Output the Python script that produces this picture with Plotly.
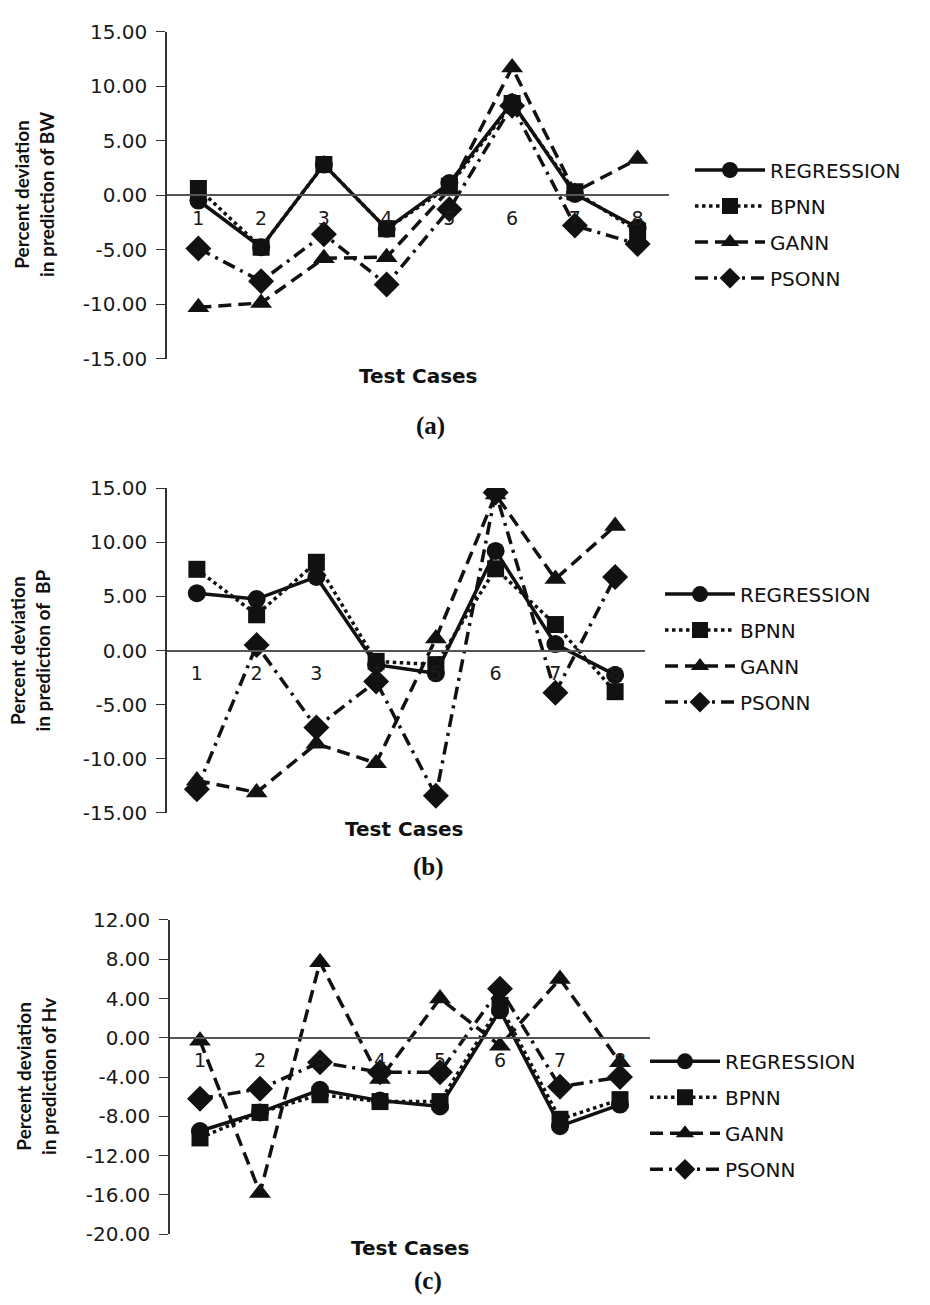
import plotly.graph_objects as go

# Test case labels shared by all three panels
cases = ["1", "2", "3", "4", "5", "6", "7", "8"]
series_names = ["REGRESSION", "BPNN", "GANN", "PSONN"]

# (a) percent deviation in prediction of BW
bw_regression = [-0.5, -4.8, 2.8, -3.1, 1.1, 8.5, 0.1, -3.0]
bw_bpnn = [0.6, -4.8, 2.8, -3.1, 0.8, 8.4, 0.3, -3.3]
bw_gann = [-10.3, -9.9, -5.8, -5.7, 0.5, 11.7, 0.3, 3.3]
bw_psonn = [-4.9, -7.9, -3.6, -8.2, -1.3, 8.2, -2.8, -4.5]
bw_ticks = [-15, -10, -5, 0, 5, 10, 15]

# (b) percent deviation in prediction of BP
bp_regression = [5.3, 4.75, 6.8, -1.3, -2.1, 9.2, 0.6, -2.25]
bp_bpnn = [7.5, 3.3, 8.15, -1.0, -1.3, 7.55, 2.4, -3.8]
bp_gann = [-12.0, -13.1, -8.6, -10.4, 1.1, 14.4, 6.6, 11.5]
bp_psonn = [-12.8, 0.5, -7.1, -2.85, -13.4, 14.6, -3.9, 6.8]
bp_ticks = [-15, -10, -5, 0, 5, 10, 15]

# (c) percent deviation in prediction of Hv
hv_regression = [-9.5, -7.6, -5.3, -6.4, -7.0, 2.8, -9.0, -6.8]
hv_bpnn = [-10.2, -7.6, -5.8, -6.5, -6.5, 3.3, -8.3, -6.3]
hv_gann = [-0.3, -15.8, 7.7, -4.2, 4.0, -0.8, 6.0, -2.5]
hv_psonn = [-6.2, -5.2, -2.5, -3.5, -3.5, 5.0, -5.0, -4.0]
hv_ticks = [-20, -16, -12, -8, -4, 0, 4, 8, 12]

W, H = 930, 1305
INK = "#111111"
WIDE = "DejaVu Sans"
TITLE_FONT = "Lato"

styles = {
    "REGRESSION": dict(dash="solid", symbol="circle", size=18),
    "BPNN": dict(dash="dot", symbol="square", size=17),
    "GANN": dict(dash="13px,7px", symbol="triangle-up", size=19),
    "PSONN": dict(dash="13px,6px,3px,6px", symbol="diamond", size=20),
}

# pixel geometry and label placement for each panel
panels = [
    dict(px=(167, 669), py=(20, 353), ticks=bw_ticks,
         data=[bw_regression, bw_bpnn, bw_gann, bw_psonn],
         ytitle="Percent deviation<br>in prediction of BW", title_x=34,
         legend_x=690, legend_y=216, caption_x=430, caption_y=422,
         xlabel_x=418, xlabel_y=371),
    dict(px=(167, 645), py=(485, 816), ticks=bp_ticks,
         data=[bp_regression, bp_bpnn, bp_gann, bp_psonn],
         ytitle="Percent deviation<br>in prediction of  BP", title_x=30,
         legend_x=660, legend_y=648, caption_x=428, caption_y=871,
         xlabel_x=404, xlabel_y=832),
    dict(px=(170, 650), py=(925, 1245), ticks=hv_ticks,
         data=[hv_regression, hv_bpnn, hv_gann, hv_psonn],
         ytitle="Percent deviation<br>in prediction of Hv", title_x=36,
         legend_x=645, legend_y=1124, caption_x=428, caption_y=1293,
         xlabel_x=410, xlabel_y=1259),
]
captions = ["(a)", "(b)", "(c)"]

fig = go.Figure()
annotations = []
layout = {}

for i, p in enumerate(panels):
    k = "" if i == 0 else str(i + 1)
    xd = (p["px"][0] / W, p["px"][1] / W)
    yd = (1 - p["py"][1] / H, 1 - p["py"][0] / H)
    lo, hi = p["ticks"][0], p["ticks"][-1]
    zero_pos = yd[0] + (0 - lo) / (hi - lo) * (yd[1] - yd[0])
    leg = "legend" if i == 0 else f"legend{i + 1}"

    for name, vals in zip(series_names, p["data"]):
        st = styles[name]
        fig.add_trace(go.Scatter(
            x=cases, y=vals, name=name, mode="lines+markers",
            xaxis="x" + k, yaxis="y" + k, legend=leg, legendgroup=f"{leg}-{name}",
            line=dict(color=INK, width=3.5, dash=st["dash"]),
            marker=dict(symbol=st["symbol"], size=st["size"], color=INK),
        ))

    layout["xaxis" + k] = dict(
        domain=list(xd), anchor="free", position=zero_pos, type="category",
        range=[-0.5, 7.5], showline=True, linecolor="#555555", linewidth=1.5,
        ticks="", showgrid=False, zeroline=False, ticklabelstandoff=6,
        tickfont=dict(family=WIDE, size=19, color="#1a1a1a"),
    )
    layout["yaxis" + k] = dict(
        domain=list(yd), anchor="x" + k, range=[lo, hi],
        tickvals=p["ticks"], ticktext=[f"{v:.2f}" for v in p["ticks"]],
        showline=True, linecolor="#333333",
        linewidth=1.5, ticks="outside", ticklen=9, tickcolor="#333333",
        ticklabelstandoff=5, showgrid=False, zeroline=False,
        tickfont=dict(family=WIDE, size=20, color="#1a1a1a"),
    )
    layout[leg] = dict(
        x=p["legend_x"] / W, y=1 - p["legend_y"] / H, xanchor="left",
        yanchor="middle", bgcolor="rgba(0,0,0,0)", traceorder="grouped",
        tracegroupgap=7, itemwidth=70,
        font=dict(family=WIDE, size=20, color=INK),
    )

    annotations.append(dict(
        text="<b>" + p["ytitle"] + "</b>", textangle=-90, showarrow=False,
        xref="paper", yref="paper", x=p["title_x"] / W,
        y=1 - (p["py"][0] + p["py"][1]) / 2 / H, xanchor="center", yanchor="middle",
        font=dict(family=TITLE_FONT, size=19, color=INK),
    ))
    annotations.append(dict(
        text="<b>Test Cases</b>", showarrow=False, xref="paper", yref="paper",
        x=p["xlabel_x"] / W, y=1 - p["xlabel_y"] / H, xanchor="center", yanchor="middle",
        font=dict(family=WIDE, size=20, color=INK),
    ))
    annotations.append(dict(
        text="<b>" + captions[i] + "</b>", showarrow=False, xref="paper", yref="paper",
        x=p["caption_x"] / W, y=1 - p["caption_y"] / H, xanchor="center", yanchor="middle",
        font=dict(family="Liberation Serif", size=25, color=INK),
    ))

fig.update_layout(
    width=W, height=H, margin=dict(l=0, r=0, t=0, b=0),
    paper_bgcolor="white", plot_bgcolor="white",
    annotations=annotations, **layout,
)

fig.write_html("out.html")
